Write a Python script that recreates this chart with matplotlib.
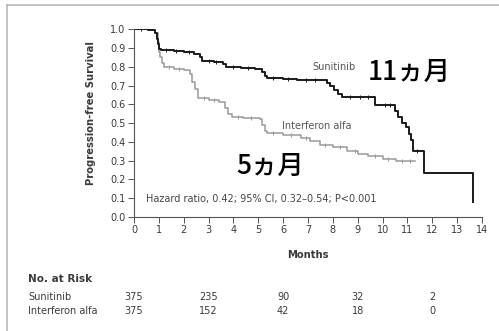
import matplotlib
matplotlib.use("Agg")
import matplotlib.pyplot as plt
import matplotlib.transforms as mtransforms
from matplotlib.lines import Line2D
from matplotlib.ticker import FormatStrFormatter
import numpy as np

# Kaplan-Meier step points
sun_t = [0, 0.55, 0.85, 0.92, 0.97, 1.02, 1.1, 1.6, 2.0, 2.4, 2.65, 2.75, 3.2, 3.6, 3.7,
         4.3, 4.85, 5.15, 5.25, 5.35, 6.0, 6.55, 7.75, 7.9, 8.05, 8.2, 8.35, 9.7, 10.5,
         10.6, 10.8, 10.95, 11.05, 11.15, 11.22, 11.67, 13.65]
sun_s = [1.0, 0.995, 0.98, 0.95, 0.92, 0.895, 0.888, 0.882, 0.877, 0.870, 0.85, 0.83, 0.826,
         0.815, 0.80, 0.795, 0.786, 0.77, 0.75, 0.738, 0.735, 0.73, 0.715, 0.70, 0.675, 0.655,
         0.637, 0.597, 0.565, 0.534, 0.50, 0.48, 0.44, 0.41, 0.352, 0.232, 0.08]

ifn_t = [0, 0.55, 0.85, 0.95, 1.0, 1.05, 1.12, 1.2, 1.6, 2.0, 2.25, 2.35, 2.45, 2.57, 3.0,
         3.4, 3.66, 3.8, 3.94, 4.4, 5.07, 5.15, 5.25, 5.35, 6.0, 6.7, 7.1, 7.5, 8.0, 8.56,
         9.0, 9.4, 10.0, 10.55, 11.3]
ifn_s = [1.0, 0.995, 0.98, 0.93, 0.88, 0.85, 0.82, 0.80, 0.79, 0.783, 0.76, 0.72, 0.68, 0.635,
         0.625, 0.614, 0.58, 0.55, 0.534, 0.525, 0.52, 0.49, 0.46, 0.445, 0.435, 0.42, 0.405,
         0.385, 0.37, 0.35, 0.335, 0.322, 0.31, 0.30, 0.30]

# censored observations (months)
sun_cens = [0.3, 1.3, 1.7, 2.2, 3.0, 3.3, 4.0, 4.6, 5.6, 6.2, 6.9, 7.3, 8.7, 9.1, 9.4, 10.1, 10.3, 11.4]
ifn_cens = [0.3, 1.4, 1.8, 2.8, 3.2, 4.2, 4.7, 5.6, 6.3, 6.9, 7.7, 8.3, 8.9, 9.7, 10.2, 10.8, 11.1]

risk_months = [0, 3, 6, 9, 12]
risk_sun = [375, 235, 90, 32, 2]
risk_ifn = [375, 152, 42, 18, 0]

plt.rcParams['font.family'] = ['DejaVu Sans']
txt = '#3a3a3a'

fig = plt.figure(figsize=(4.99, 3.31), dpi=100)
ax = fig.add_axes([0.2685, 0.345, 0.6975, 0.5665])

def step_at(ts, ss, t):
    i = np.searchsorted(ts, t, side='right') - 1
    return ss[i]

ax.step(ifn_t, ifn_s, where='post', color='#9a9a9a', lw=1.1)
ax.step(sun_t, sun_s, where='post', color='#1a1a1a', lw=1.4)
ax.plot(ifn_cens, [step_at(ifn_t, ifn_s, t) for t in ifn_cens], ls='none',
        marker='|', ms=3, mew=0.7, color='#9a9a9a')
ax.plot(sun_cens, [step_at(sun_t, sun_s, t) for t in sun_cens], ls='none',
        marker='|', ms=3, mew=0.7, color='#1a1a1a')

ax.set_xlim(0, 14)
ax.set_ylim(0, 1.0)
ax.set_xticks(range(0, 15))
ax.set_yticks([i / 10 for i in range(11)])
ax.yaxis.set_major_formatter(FormatStrFormatter('%.1f'))
for s in ['top', 'right']:
    ax.spines[s].set_visible(False)
for s in ['left', 'bottom']:
    ax.spines[s].set_color('#555555')
    ax.spines[s].set_linewidth(0.8)
ax.tick_params(direction='out', length=4, width=0.7, color='#555555',
               labelsize=7, labelcolor=txt, pad=2)

ax.text(7.16, 0.80, 'Sunitinib', fontsize=7, color='#555555', va='center', ha='left')
ax.text(5.94, 0.484, 'Interferon alfa', fontsize=7, color='#555555', va='center', ha='left')
ax.text(0.48, 0.093, 'Hazard ratio, 0.42; 95% CI, 0.32\u20130.54; P<0.001', fontsize=7,
        color='#444444', va='center', ha='left')
ax.text(9.41, 0.77, '11ヵ月', fontsize=19, family=['Noto Sans CJK JP'], fontweight='medium',
        color='black', va='center', ha='left')
ax.text(4.13, 0.268, '5ヵ月', fontsize=19, family=['Noto Sans CJK JP'], fontweight='medium',
        color='black', va='center', ha='left')

fig.text(0.182, 0.659, 'Progression-free Survival', rotation=90, fontsize=7.2,
         fontweight='semibold', color=txt, ha='center', va='center')

tr = mtransforms.blended_transform_factory(ax.transData, fig.transFigure)
ax.text(7, 0.2296, 'Months', transform=tr, fontsize=7.2, fontweight='semibold',
        color=txt, ha='center', va='center')

fig.text(0.056, 0.157, 'No. at Risk', fontsize=7.5, fontweight='semibold', color=txt,
         ha='left', va='center')
fig.text(0.056, 0.103, 'Sunitinib', fontsize=7, color=txt, ha='left', va='center')
fig.text(0.056, 0.060, 'Interferon alfa', fontsize=7, color=txt, ha='left', va='center')
for m, a, b in zip(risk_months, risk_sun, risk_ifn):
    ax.text(m, 0.103, str(a), transform=tr, fontsize=7, color=txt, ha='center', va='center')
    ax.text(m, 0.060, str(b), transform=tr, fontsize=7, color=txt, ha='center', va='center')

# thin frame on the top and left edges of the image
fig.add_artist(Line2D([0.014, 1.0], [0.985, 0.985], transform=fig.transFigure,
                      color='#b8b8b8', lw=1.2))
fig.add_artist(Line2D([0.014, 0.014], [0.0, 0.985], transform=fig.transFigure,
                      color='#b8b8b8', lw=1.2))

fig.savefig('out.png', dpi=100)
